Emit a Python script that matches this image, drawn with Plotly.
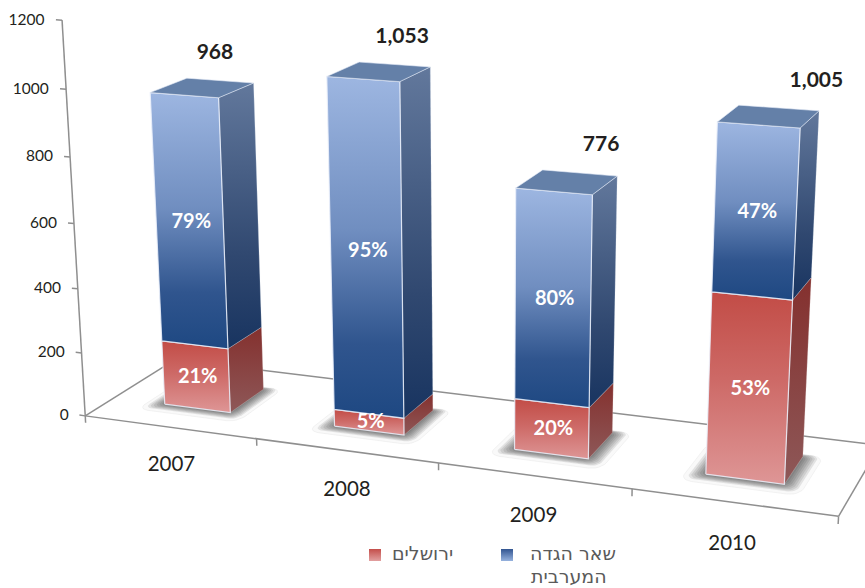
import numpy as np
import plotly.graph_objects as go

# ---------- data ----------
years = ["2007", "2008", "2009", "2010"]
totals = [968, 1053, 776, 1005]
total_labels = ["968", "1,053", "776", "1,005"]
jerusalem_pct = [21, 5, 20, 53]
westbank_pct = [79, 95, 80, 47]
z_ticks = [0, 200, 400, 600, 800, 1000, 1200]
series_name_jerusalem = "ירושלים"
series_name_westbank = ["שאר הגדה", "המערבית"]

# ---------- 3D view: pinhole projection calibrated on the chart box ----------
# (category position, depth, value) -> pixel-like plot coordinates
calib_world = np.array([[0, 0, 0], [1, 0, 0], [2, 0, 0], [3, 0, 0], [4, 0, 0], [0, 1, 0], [4, 1, 0],
                        [0, 0, 1200], [0, 0, 600], [4, 0, 1200]], float)
calib_view = np.array([[86, 415], [256, 440], [438, 463], [632, 490], [839, 515], [175, 360], [880, 445],
                       [62, 20], [74, 223], [862, 72]], float)

def fit_view(w, p):
    A, b = [], []
    for (u, v, h), (x, y) in zip(w, p):
        h = h / 1200
        A.append([u, v, h, 1, 0, 0, 0, 0, -x * u, -x * v, -x * h]); b.append(x)
        A.append([0, 0, 0, 0, u, v, h, 1, -y * u, -y * v, -y * h]); b.append(y)
    s = np.linalg.lstsq(np.array(A), np.array(b), rcond=None)[0]
    return np.append(s, 1).reshape(3, 4)

P = fit_view(calib_world, calib_view)

def proj(u, v, h):
    q = P @ np.array([u, v, h / 1200, 1.0])
    return q[0] / q[2], q[1] / q[2]

def poly(points):
    xy = [proj(*p) for p in points]
    xs = [a for a, _ in xy] + [xy[0][0]]
    ys = [b for _, b in xy] + [xy[0][1]]
    return xs, ys

fig = go.Figure()

def line(points, color="#8f8f8f", width=1.5):
    xy = [proj(*p) for p in points]
    fig.add_trace(go.Scatter(x=[a for a, _ in xy], y=[b for _, b in xy], mode="lines",
                             line=dict(color=color, width=width), hoverinfo="skip", showlegend=False))

def face(points, bottom_scale=None, solid=None, edge="rgba(235,240,250,0.85)", edge_w=1.2):
    xs, ys = poly(points)
    kw = dict(x=xs, y=ys, mode="lines", fill="toself", hoverinfo="skip", showlegend=False,
              line=dict(color=edge, width=edge_w))
    if solid is not None:
        kw["fillcolor"] = solid
    else:
        kw["fillgradient"] = dict(type="vertical", colorscale=bottom_scale, start=max(ys), stop=min(ys))
    fig.add_trace(go.Scatter(**kw))

def label(u, v, h, text, size, color="#231f20", pos="middle center", dx=0, dy=0, font="Lato"):
    x, y = proj(u, v, h)
    fig.add_trace(go.Scatter(x=[x + dx], y=[y + dy], mode="text", text=[text], textposition=pos,
                             textfont=dict(size=size, color=color, family=font),
                             hoverinfo="skip", showlegend=False))

# ---------- chart box ----------
line([(0, 1, 0), (4.6, 1, 0)])
line([(0, 0, 0), (0, 1, 0)])
line([(4, 0, 0), (4, 1, 0)])
line([(0, 0, 0), (4, 0, 0)])
line([(0, 0, 0), (0, 0, 1200)])
for h in z_ticks:
    line([(-0.035, 0, h), (0, 0, h)])
    label(-0.1, 0, h, str(h), 15.5, pos="middle left", dy=2)
for u in range(5):
    line([(u, 0, 0), (u, 0, -22)])

BLUE_FRONT = [[0, "rgb(30,72,130)"], [0.22, "rgb(48,85,142)"], [0.55, "rgb(112,142,192)"], [1, "rgb(157,182,225)"]]
BLUE_SIDE = [[0, "rgb(24,52,96)"], [0.35, "rgb(48,72,112)"], [1, "rgb(98,120,156)"]]
RED_FRONT = [[0, "rgb(222,150,150)"], [0.55, "rgb(205,105,102)"], [1, "rgb(194,76,70)"]]
RED_SIDE = [[0, "rgb(142,88,88)"], [1, "rgb(132,48,46)"]]
TOP = "rgb(100,128,168)"

W, V0, V1 = 0.195, 0.31, 0.71

def rounded_floor(u0, u1, v0, v1, r):
    pts = []
    corners = [(u1 - r, v0 + r * 1.6, -np.pi / 2), (u1 - r, v1 - r * 1.6, 0),
               (u0 + r, v1 - r * 1.6, np.pi / 2), (u0 + r, v0 + r * 1.6, np.pi)]
    for cu, cv, a0 in corners:
        for a in np.linspace(a0, a0 + np.pi / 2, 7):
            pts.append((cu + r * np.cos(a), cv + r * 1.6 * np.sin(a), 0))
    return pts

for i, total in enumerate(totals):
    u = i + 0.5 - 0.008 * i
    u0, u1 = u - W, u + W
    j = total * jerusalem_pct[i] / 100
    # soft floor shadow
    face(rounded_floor(u0 - 0.10, u1 + 0.10, V0 - 0.12, V1 + 0.03, 0.06), solid="rgba(150,150,150,0.06)",
         edge="rgba(205,205,205,0.22)", edge_w=1)
    for k in range(7):
        g = 0.011 * (7 - k)
        face(rounded_floor(u0 - g, u1 + g, V0 - g * 1.1, V1 + g * 0.4, 0.04), solid="rgba(30,30,30,0.10)",
             edge="rgba(0,0,0,0)", edge_w=0)
    # Jerusalem segment
    face([(u1, V0, 0), (u1, V1, 0), (u1, V1, j), (u1, V0, j)], RED_SIDE, edge="rgba(230,220,220,0.3)", edge_w=0.8)
    face([(u0, V0, 0), (u1, V0, 0), (u1, V0, j), (u0, V0, j)], RED_FRONT)
    # West Bank segment
    face([(u1, V0, j), (u1, V1, j), (u1, V1, total), (u1, V0, total)], BLUE_SIDE, edge="rgba(220,228,240,0.3)", edge_w=0.8)
    face([(u0, V0, j), (u1, V0, j), (u1, V0, total), (u0, V0, total)], BLUE_FRONT)
    face([(u0, V0, total), (u1, V0, total), (u1, V1, total), (u0, V1, total)], solid=TOP, edge="rgba(225,232,245,0.6)", edge_w=1)
    # value labels
    label(u + 0.01, V0, j / 2, f"<b>{jerusalem_pct[i]}%</b>", 20, color="white", dy=1)
    label(u + 0.01, V0, j + (total - j) / 2, f"<b>{westbank_pct[i]}%</b>", 20, color="white", dy=1)
    label(i + 0.5 + (i - 1.5) * 0.08, V1 + 0.22, total + 55, f"<b>{total_labels[i]}</b>", 21, dx=-3)
    label(i + 0.5, 0, -125, years[i], 20.5)

# ---------- legend ----------
for mx, my, c0, c1 in [(375, 555, "rgb(196,78,74)", "rgb(226,160,160)"),
                       (507, 555, "rgb(50,85,145)", "rgb(150,178,222)")]:
    fig.add_trace(go.Scatter(x=[mx], y=[my], mode="markers", hoverinfo="skip", showlegend=False,
                             marker=dict(symbol="square", size=12, color=c0, line=dict(width=0),
                                         gradient=dict(type="vertical", color=c1))))
legend_font = dict(size=19, color="#5a5a5a", family="DejaVu Sans")
annotations = [
    dict(x=422, y=553, xref="x", yref="y", xanchor="center", yanchor="middle", showarrow=False,
         text=series_name_jerusalem, font=legend_font),
    dict(x=573, y=553, xref="x", yref="y", xanchor="center", yanchor="middle", showarrow=False,
         text=series_name_westbank[0], font=legend_font),
    dict(x=569, y=576, xref="x", yref="y", xanchor="center", yanchor="middle", showarrow=False,
         text=series_name_westbank[1], font=legend_font),
]

fig.update_layout(
    width=865, height=588, margin=dict(l=0, r=0, t=0, b=0, autoexpand=False), showlegend=False,
    paper_bgcolor="white", plot_bgcolor="white",
    xaxis=dict(range=[0, 865], visible=False, fixedrange=True),
    yaxis=dict(range=[588, 0], visible=False, fixedrange=True),
    annotations=annotations,
)
# the page's default 8px body margin would shift the chart off the window
fig.write_html("out.html", config=dict(displayModeBar=False),
               post_script="document.body.style.margin='0';document.body.style.overflow='hidden';")
